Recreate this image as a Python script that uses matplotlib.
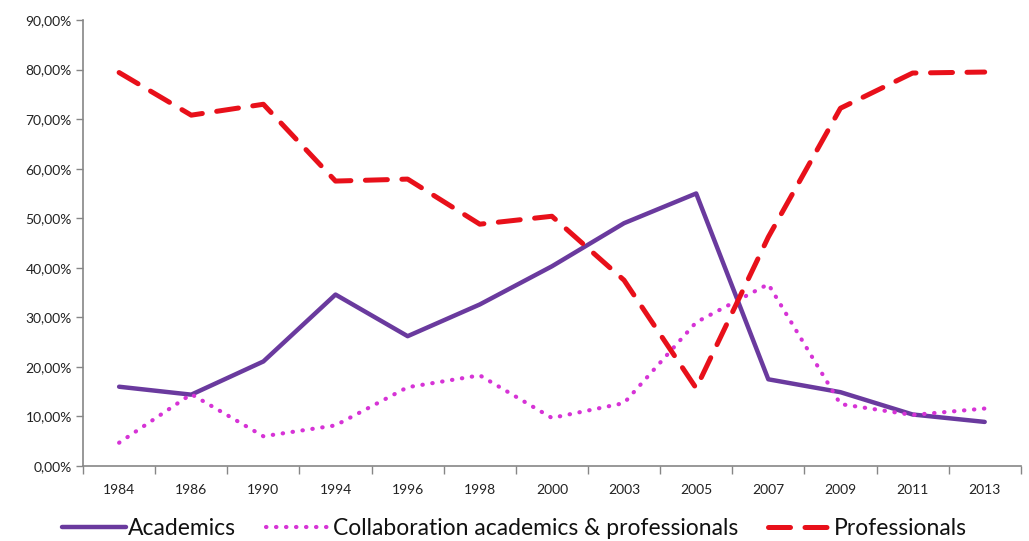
import numpy as np
import matplotlib
matplotlib.use("Agg")
import matplotlib.pyplot as plt
from matplotlib.ticker import FixedLocator, NullFormatter

years = ["1984", "1986", "1990", "1994", "1996", "1998", "2000",
         "2003", "2005", "2007", "2009", "2011", "2013"]
academics = [16.0, 14.4, 21.1, 34.6, 26.2, 32.6, 40.3, 49.0, 55.0, 17.5, 14.9, 10.4, 8.9]
collaboration = [4.7, 14.5, 6.0, 8.2, 15.9, 18.3, 9.7, 12.7, 29.0, 36.7, 12.5, 10.3, 11.6]
professionals = [79.4, 70.8, 73.0, 57.5, 57.9, 48.8, 50.4, 37.5, 15.7, 46.2, 72.2, 79.3, 79.5]

plt.rcParams['font.family'] = ['Lato', 'DejaVu Sans']

fig = plt.figure(figsize=(10.29, 5.41), dpi=100)
ax = fig.add_axes([0.0807, 0.1386, 0.9113, 0.8244])

purple = "#6A3A9E"
magenta = "#D633D6"
red = "#E8101A"

x = np.arange(len(years))
ax.plot(x, academics, color=purple, lw=3.2, solid_joinstyle='round',
        solid_capstyle='round', label="Academics")
ax.plot(x, collaboration, color=magenta, lw=3.0, linestyle=(0, (0.1, 2.3)),
        dash_capstyle='round', dash_joinstyle='round',
        label="Collaboration academics & professionals")
ax.plot(x, professionals, color=red, lw=3.6, linestyle=(0, (4.4, 2.9)),
        dash_capstyle='round', dash_joinstyle='round', label="Professionals")

ax.set_xlim(-0.5, len(years) - 0.5)
ax.set_ylim(0, 90)

# category boundaries carry the tick marks, labels sit at the centres
ax.xaxis.set_major_locator(FixedLocator(np.arange(-0.5, len(years), 1.0)))
ax.xaxis.set_major_formatter(NullFormatter())
ax.set_xticks(x, minor=True)
ax.set_xticklabels(years, minor=True)
ax.tick_params(axis='x', which='major', length=6, width=1, color="#868686", direction='out')
ax.tick_params(axis='x', which='minor', length=0, pad=13, labelsize=10, labelcolor="#222222")

yt = np.arange(0, 91, 10)
ax.set_yticks(yt)
ax.set_yticklabels([f"{v:.2f}%".replace(".", ",") for v in yt])
ax.tick_params(axis='y', length=5, width=1, color="#868686", direction='out', pad=3,
               labelsize=10, labelcolor="#222222")

for s in ("top", "right"):
    ax.spines[s].set_visible(False)
for s in ("left", "bottom"):
    ax.spines[s].set_color("#868686")
    ax.spines[s].set_linewidth(1.2)

leg = fig.legend(loc='lower center', bbox_to_anchor=(0.5, -0.035), ncol=3, frameon=False,
                 fontsize=16.5, handlelength=2.8, handletextpad=0.1, columnspacing=1.3)
for t in leg.get_texts():
    t.set_color("#111111")

fig.savefig("out.png", dpi=100)
